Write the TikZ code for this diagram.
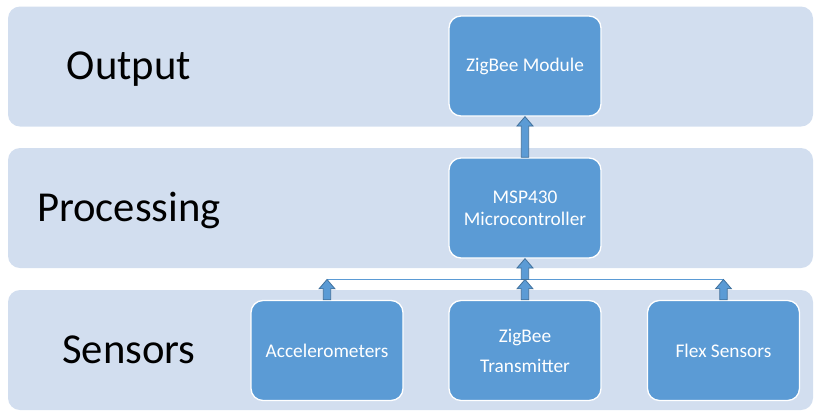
\documentclass[tikz,border=0pt]{standalone}
\usepackage{fontspec}
\setmainfont{Carlito}
\usetikzlibrary{calc, positioning}

\definecolor{bandfill}{HTML}{D2DEEF}
\definecolor{boxfill}{HTML}{5B9BD5}
\definecolor{arrowline}{HTML}{41719C}

\tikzset{
  band/.style={fill=bandfill, rounded corners=9pt, minimum width=603.75pt, minimum height=90pt, inner sep=0pt},
  tier/.style={font=\fontsize{32}{38}\selectfont, text=black, inner sep=0pt, anchor=base},
  block/.style={fill=boxfill, draw=white, line width=1pt, rounded corners=9pt, minimum width=114pt, minimum height=75pt, text=white, align=center, font=\fontsize{14.5}{16.5}\selectfont, inner sep=2pt},
  blockarr/.style={fill=boxfill, draw=arrowline, line width=0.6pt, line join=miter},
  bus/.style={draw=boxfill, line width=0.9pt}
}

% upward block arrow from #1 to #2 (tip at #2)
\newcommand{\blockup}[2]{%
  \draw[blockarr] let \p1=(#1), \p2=(#2) in
    (\x1-2.8pt,\y1) -- (\x1-2.8pt,\y2-7pt) -- (\x1-6pt,\y2-7pt) -- (\x1,\y2)
    -- (\x1+6pt,\y2-7pt) -- (\x1+2.8pt,\y2-7pt) -- (\x1+2.8pt,\y1) -- cycle;}

\begin{document}
\begin{tikzpicture}[x=0.75pt, y=-0.75pt]
  \useasboundingbox (0,0) rectangle (823,419);

  % tiers
  \node[band] (outband)  at (410.5,66.5) {};
  \node[band] (procband) at (410.5,208) {};
  \node[band] (sensband) at (410.5,350) {};

  \node[tier] (outlbl)  at (129,79.5)  {Output};
  \node[tier] (proclbl) at (129,221)   {Processing};
  \node[tier] (senslbl) at (129,363.5) {Sensors};

  % blocks
  \node[block] (zbm)  at (525,66)    {ZigBee Module};
  \node[block] (msp)  at (525,208)   {MSP430\\Microcontroller};
  \node[block] (acc)  at (327,350.5) {Accelerometers};
  \node[block] (zbt)  at (525,350.5) {ZigBee\\[6pt]Transmitter};
  \node[block] (flex) at (723.5,350.5) {Flex Sensors};

  % bus between sensors and controller
  \coordinate (busl) at (acc.north |- 0,279.5);
  \coordinate (busm) at (zbt.north |- 0,279.5);
  \coordinate (busr) at (flex.north |- 0,279.5);
  \draw[bus] (busl) -- (busr);

  \foreach \s/\b in {acc/busl, zbt/busm, flex/busr} {
    \blockup{\s.north}{\b}
  }
  \blockup{busm}{msp.south}
  \blockup{msp.north}{zbm.south}
\end{tikzpicture}
\end{document}
